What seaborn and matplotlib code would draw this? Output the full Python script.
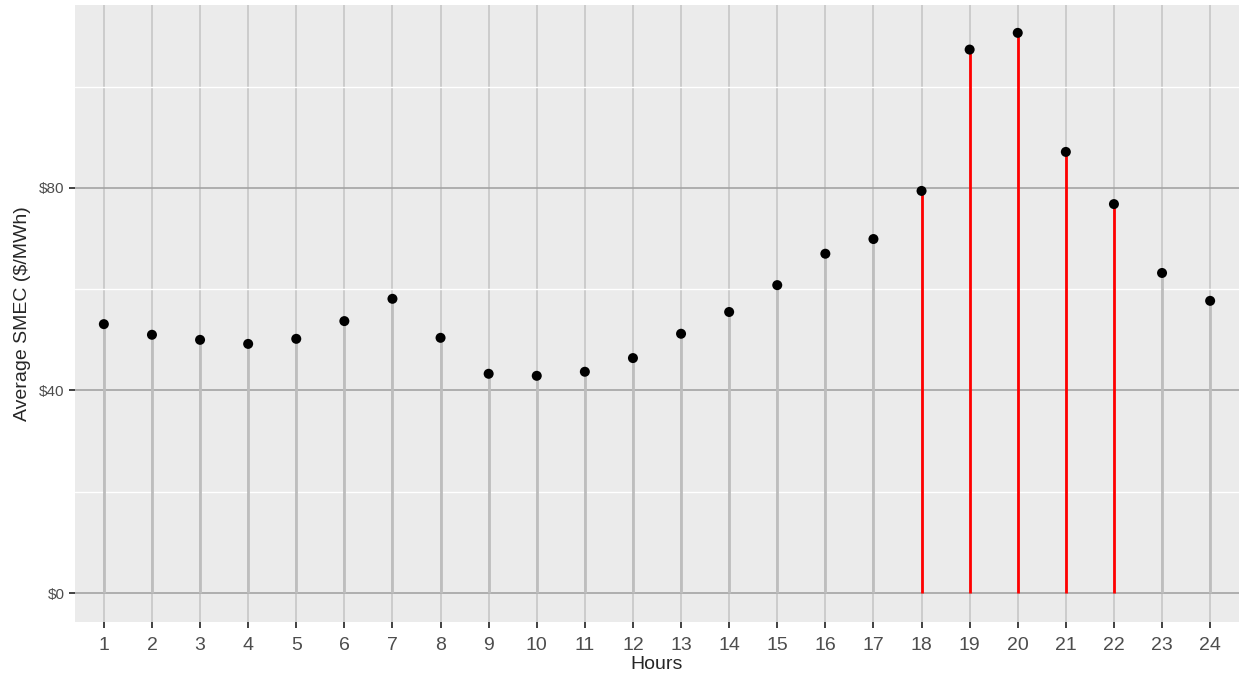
import numpy as np
import pandas as pd
import matplotlib
matplotlib.use("Agg")
import matplotlib.pyplot as plt
import seaborn as sns

# hourly average SMEC
hours = list(range(1, 25))
smec = [53.1, 51.0, 50.0, 49.2, 50.2, 53.7, 58.1, 50.4, 43.3, 42.9, 43.7, 46.4,
        51.2, 55.5, 60.8, 67.0, 69.9, 79.4, 107.3, 110.6, 87.1, 76.8, 63.2, 57.7]
peak_hours = [18, 19, 20, 21, 22]

df = pd.DataFrame({"hour": hours, "smec": smec})
df["peak"] = df["hour"].isin(peak_hours)

sns.set_theme(style="ticks", rc={"axes.facecolor": "#ebebeb"})
plt.rcParams["font.family"] = ["Liberation Sans", "DejaVu Sans"]

fig = plt.figure(figsize=(12.39, 6.81), dpi=100)
ax = fig.add_axes([75 / 1239, 59 / 681, 1 - 75 / 1239, 617 / 681])

# gridlines drawn by hand to mimic ggplot look
for h in hours:
    ax.axvline(h, color="#c6c6c6", lw=1.2, zorder=0)
for v in [0, 40, 80]:
    ax.axhline(v, color="#a3a3a3", lw=1.2, zorder=0)
for v in [20, 60, 100]:
    ax.axhline(v, color="white", lw=1.0, zorder=0)

# segments from zero to each value
normal = df[~df["peak"]]
peak = df[df["peak"]]
ax.vlines(normal["hour"], 0, normal["smec"], color="#bdbdbd", lw=2.0, zorder=1)
ax.vlines(peak["hour"], 0, peak["smec"], color="red", lw=2.0, zorder=2)

sns.scatterplot(data=df, x="hour", y="smec", color="black", s=52,
                edgecolor="none", zorder=3, ax=ax)

ax.set_xlim(0.4, 24.6)
ax.set_ylim(-5.7, 116.1)
ax.set_xticks(hours)
ax.set_xticklabels([str(h) for h in hours], fontsize=14, color="#4d4d4d")
ax.set_yticks([0, 40, 80])
ax.set_yticklabels(["$0", "$40", "$80"], fontsize=11, color="#4d4d4d")
ax.tick_params(axis="both", direction="out", length=4.5, width=1.3,
               color="#333333", pad=3)
ax.tick_params(axis="x", pad=6)
for s in ax.spines.values():
    s.set_visible(False)

ax.set_xlabel("Hours", fontsize=14, labelpad=2)
ax.set_ylabel("Average SMEC ($/MWh)", fontsize=14, labelpad=6)

fig.savefig("out.png", dpi=100)
